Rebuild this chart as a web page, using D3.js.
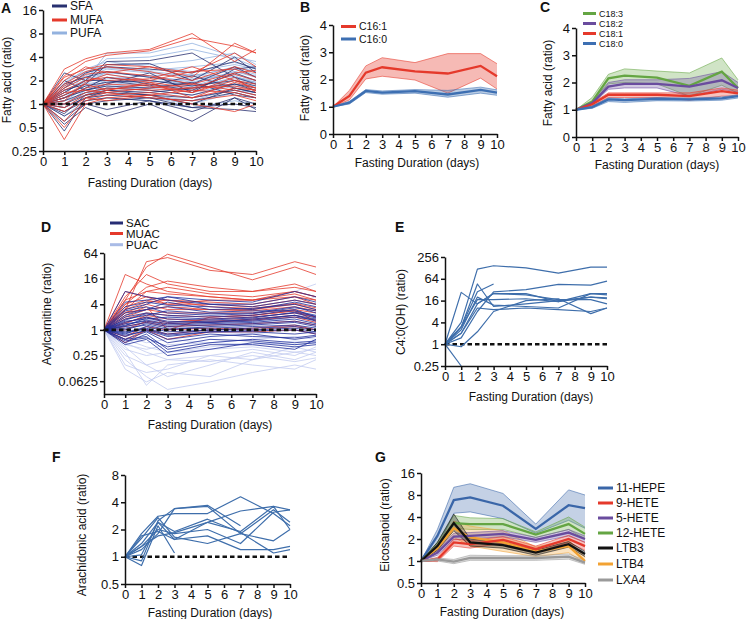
<!DOCTYPE html>
<html><head><meta charset="utf-8">
<script src="https://cdn.jsdelivr.net/npm/d3@7"></script>
<style>body{margin:0;background:#fff}svg{display:block}text{font-family:"Liberation Sans",Arial,Helvetica,sans-serif;fill:#111}</style>
</head><body><svg id="c" width="746" height="619"></svg>
<script>
const days=[0,1,2,3,5,7,9,10];
const xTicks=[0,1,2,3,4,5,6,7,8,9,10];
const xTitle="Fasting Duration (days)";

// ---------- Panel A ----------
const aTicks=[0.25,0.5,1,2,4,8,16];
const aNames=["SFA","MUFA","PUFA"];
const sfa=[[1,0.45,1.2,1.5,1.4,1.6,1.8,1.5],[1,0.55,0.9,0.7,1.0,0.6,1.2,1.0],[1,0.7,1.0,0.85,1.1,0.9,0.85,0.8],[1,2.5,2.0,3.5,3.6,4.5,2.2,1.8],[1,1.5,1.8,3.2,3.3,2.0,4.0,2.5],[1,1.2,1.6,2.2,1.8,1.5,2.5,2.0],[1,1.1,1.4,1.6,1.5,1.3,1.8,1.6],[1,0.9,1.2,1.3,1.2,1.1,1.4,1.2],[1,1.8,2.2,2.6,2.2,1.8,3.0,2.2],[1,1.3,1.7,1.9,2.0,1.7,2.0,1.7],[1,0.8,1.1,1.2,1.1,0.8,1.2,0.85],[1,1.4,2.0,2.0,1.7,2.3,1.6,1.4],[1,2.0,1.5,1.8,2.5,1.4,2.8,3.0],[1,1.0,1.3,1.4,1.3,1.2,1.5,1.3],[1,0.6,1.0,1.1,1.2,0.9,1.0,0.9],[1,1.6,2.5,3.0,2.8,2.5,3.5,2.8],[1,1.2,1.5,1.7,1.6,1.9,1.3,1.2],[1,0.75,1.3,1.5,1.3,1.0,1.6,1.4]];
const mufa=[[1,0.35,1.0,1.2,1.3,1.5,1.4,1.2],[1,0.5,1.1,1.3,1.4,1.2,1.6,1.5],[1,2.8,3.8,4.5,5.0,8.0,3.5,5.0],[1,2.3,3.5,4.2,4.8,7.0,5.5,4.5],[1,2.0,3.0,2.5,3.0,2.5,4.5,3.0],[1,1.5,2.0,2.2,1.9,1.6,2.4,2.0],[1,1.2,1.6,1.8,1.7,1.4,2.0,1.8],[1,1.8,2.6,3.0,2.6,2.0,3.0,2.5],[1,1.0,1.4,1.6,1.5,1.6,1.7,1.5],[1,0.8,1.2,1.4,1.2,1.1,1.3,1.1],[1,1.6,2.2,2.0,2.1,3.0,2.0,1.6],[1,1.3,1.8,1.5,1.8,1.4,2.2,1.4],[1,2.2,2.8,3.2,3.0,2.2,6.0,4.5],[1,1.4,1.5,1.4,1.6,1.8,1.5,1.3],[1,0.6,1.2,1.1,1.3,1.0,0.8,1.0],[1,1.1,1.9,2.4,2.0,2.6,2.8,2.2],[1,1.7,2.4,2.6,2.3,1.8,2.5,2.7],[1,0.9,1.3,1.5,1.9,1.2,1.9,1.6]];
const pufa=[[1,1.5,2.0,4.5,4.5,6.0,4.0,3.5],[1,1.3,2.4,3.8,4.0,5.0,3.8,3.0],[1,1.8,2.8,3.5,3.0,2.6,3.2,2.8],[1,1.2,1.8,2.6,2.2,2.0,2.8,2.4],[1,1.0,1.5,2.0,1.8,1.6,2.2,1.9],[1,0.9,1.3,1.6,1.6,1.4,1.8,1.7],[1,1.4,2.0,2.4,2.0,1.7,2.4,2.0],[1,1.6,2.2,2.8,2.5,2.2,3.0,2.6],[1,1.1,1.6,1.9,1.7,1.5,2.0,1.8],[1,0.8,1.2,1.3,1.2,1.0,1.4,1.2],[1,2.0,2.6,3.2,3.2,3.6,4.5,3.2],[1,1.3,1.7,2.1,2.3,1.9,2.6,2.2],[1,1.0,1.4,1.5,1.4,1.2,1.5,1.4],[1,1.5,1.9,2.2,2.0,1.8,2.6,2.3],[1,1.2,1.5,1.7,1.5,1.3,1.7,1.5],[1,0.7,1.1,1.2,1.1,0.9,1.1,1.0],[1,1.7,2.3,3.0,2.7,3.0,3.4,2.9],[1,1.1,1.3,1.8,1.6,1.7,2.1,1.9],[1,1.4,2.1,2.5,2.3,2.4,2.2,2.0],[1,0.9,1.2,1.4,1.3,1.1,1.6,1.4],[1,1.2,1.8,2.0,1.9,2.1,2.3,1.8],[1,1.9,2.5,2.9,2.6,2.3,2.9,2.6]];

// ---------- Panel B ----------
const bTicks=[0,1,2,3,4];
const bNames=["C16:1","C16:0"];
const bMean=[[1,1.4,2.25,2.45,2.3,2.22,2.5,2.12],[1,1.15,1.58,1.52,1.57,1.45,1.62,1.52]];
const bLow=[[1,1.25,2.02,2.12,1.98,1.5,2.05,1.65],[1,1.1,1.52,1.46,1.5,1.35,1.5,1.42]];
const bHigh=[[1,1.6,2.5,2.8,2.62,2.95,2.95,2.58],[1,1.2,1.63,1.58,1.63,1.6,1.72,1.62]];

// ---------- Panel C ----------
const cTicks=[0,1,2,3,4];
const cNames=["C18:3","C18:2","C18:1","C18:0"];
const cMean=[[1,1.3,2.15,2.25,2.18,1.88,2.4,1.8],[1,1.25,1.85,1.95,1.95,1.85,2.08,1.8],[1,1.2,1.55,1.55,1.55,1.5,1.68,1.6],[1,1.1,1.38,1.35,1.4,1.38,1.42,1.5]];
const cLow=[[1,1.2,1.95,2.0,1.95,1.5,1.9,1.6],[1,1.2,1.75,1.8,1.8,1.5,1.75,1.65],[1,1.15,1.45,1.45,1.45,1.35,1.5,1.5],[1,1.05,1.3,1.27,1.33,1.32,1.35,1.43]];
const cHigh=[[1,1.45,2.3,2.5,2.42,2.35,2.9,2.1],[1,1.3,2.0,2.1,2.1,2.15,2.4,2.0],[1,1.25,1.62,1.62,1.62,1.62,1.8,1.72],[1,1.13,1.43,1.4,1.45,1.43,1.47,1.55]];

// ---------- Panel D ----------
const dTicks=[0.0625,0.25,1,4,16,64];
const dNames=["SAC","MUAC","PUAC"];
const sac=[[1,0.5,0.8,0.35,0.5,0.6,0.5,0.55],[1,0.45,0.6,0.25,0.35,0.5,0.4,0.45],[1,0.6,0.9,0.5,0.7,0.8,0.6,0.7],[1,0.7,1.0,0.7,0.9,0.9,0.8,0.9],[1,0.8,1.2,0.9,1.0,1.1,1.2,1.0],[1,1.2,1.5,1.2,1.3,1.4,1.6,1.3],[1,1.5,2.0,1.6,1.5,1.8,2.2,1.6],[1,2.0,2.5,2.2,2.0,2.2,3.0,2.0],[1,2.5,3.0,4.5,3.0,3.2,4.0,3.0],[1,3.0,4.0,6.0,4.0,4.0,6.0,4.5],[1,8.0,6.0,5.0,4.0,3.5,5.0,4.0],[1,4.5,5.0,6.0,5.0,4.5,8.0,6.0],[1,1.1,1.3,1.0,1.2,1.3,1.5,1.2],[1,0.9,1.1,0.8,1.0,1.0,1.1,0.9],[1,1.3,1.7,1.4,1.5,1.6,2.0,1.7],[1,1.8,2.2,2.8,2.4,2.5,3.5,2.5],[1,0.6,0.7,0.3,0.45,0.45,0.35,0.6],[1,1.6,1.8,2.0,1.8,2.0,2.5,1.9],[1,2.2,3.0,3.5,2.6,2.8,2.8,2.2],[1,0.75,0.95,0.6,0.8,0.7,0.65,0.75],[1,1.4,1.6,1.3,1.4,1.5,1.8,1.4],[1,1.0,1.4,1.1,1.1,1.2,1.3,1.1],[1,3.5,4.5,3.8,3.5,3.0,4.5,3.5],[1,0.55,0.65,0.4,0.6,0.55,0.45,0.5],[1,1.7,2.4,1.8,1.7,1.9,2.6,2.1],[1,0.85,1.05,0.75,0.9,0.95,1.0,0.8],[1,2.8,3.5,2.5,2.2,2.4,3.3,2.8],[1,1.25,1.9,1.5,1.6,1.7,2.2,1.8]];
const muac=[[1,20,12,8,6,5,8,6],[1,3,40,50,25,20,40,30],[1,5,30,60,30,15,30,20],[1,6,20,12,8,8,10,8],[1,4,10,14,10,8,12,8],[1,3,8,10,7,6,8,6],[1,8,6,4,5,5,6,4],[1,2.5,4,3,3,3,4,3],[1,2,3,2.5,2.5,2.5,3,2.5],[1,1.5,2,1.5,1.8,2,2.5,2],[1,3.5,5,4,4,3.5,5,4],[1,1.2,1.5,1.2,1.3,1.4,1.6,1.3],[1,2.2,3.5,1.0,2,2.2,2.8,1.6],[1,4,6,5,4.5,4,6,5],[1,0.5,1.0,0.8,1.0,1.1,1.3,1.0],[1,0.7,1.2,1.0,1.1,1.0,1.2,1.0],[1,1.8,2.5,2.2,2.0,2.2,2.8,2.0],[1,2.6,3,3.5,3,2.8,3.5,2.8],[1,1,1.6,1.4,1.5,1.7,2.0,1.5],[1,5,8,7,6,5,7,5],[1,3,4.5,5,3.5,3.2,4.2,3.3],[1,0.6,1.0,0.6,0.9,0.9,1.0,0.8],[1,1.4,2.2,1.8,1.6,1.8,2.2,1.7]];
const puac=[[1,0.3,0.05,0.15,0.2,0.15,0.12,0.2],[1,0.2,0.08,0.04,0.06,0.1,0.15,0.12],[1,0.12,0.06,0.1,0.08,0.2,0.3,0.25],[1,0.4,0.15,0.08,0.15,0.3,0.2,0.3],[1,0.5,0.3,0.2,0.25,0.35,0.25,0.4],[1,0.6,0.4,0.3,0.4,0.5,0.45,0.5],[1,0.7,0.5,0.6,0.5,0.6,0.7,0.6],[1,0.8,0.9,0.8,0.9,0.8,1.0,0.9],[1,1.5,2,3,4,5,8,12],[1,1.2,1.5,2,2.5,3,4,6],[1,0.9,1.2,1.0,1.3,1.4,2.0,1.5],[1,0.35,0.25,0.3,0.35,0.4,0.3,0.35],[1,0.25,0.15,0.2,0.18,0.25,0.18,0.22],[1,0.45,0.35,0.45,0.5,0.45,0.55,0.5],[1,1.1,1.5,1.3,1.4,1.6,2.2,2.0],[1,0.15,0.1,0.12,0.25,0.2,0.4,0.3]];

// ---------- Panel E ----------
const eTicks=[0.25,1,4,16,64,256];
const eLines=[[1,4,118,147,128,92,135,135],[1,27,13,25,25,15,25,25],[1,3,46,11,13,16,20,18],[1,3,28,46,null,null,null,null],[1,1.5,8,28,32,45,43,55],[1,0.85,2.2,8,16,18,7,10],[1,0.25,null,null,null,null,null,null],[1,3,17,17,18,15,20,19],[1,2.5,20,12,11,10,25,23],[1,2,10,9,10,9,8,10],[1,2,13,25,23,17,17,13]];

// ---------- Panel F ----------
const fTicks=[0.5,1,2,4,8];
const fLines=[[1,1.8,2.8,3.0,3.0,4.6,3.0,2.2],[1,0.9,2.5,3.4,3.7,2.2,null,null],[1,0.8,2.2,1.1,null,null,null,null],[1,1.4,2.4,1.55,2.4,1.9,3.6,2.0],[1,1.3,2.0,1.8,2.0,1.4,3.1,3.3],[1,1.6,2.7,1.65,1.4,1.8,1.5,2.0],[1,1.3,1.7,1.85,2.4,3.2,3.6,3.3],[1,1.7,1.9,1.55,1.7,1.2,1.2,1.3],[1,1.05,2.4,1.9,2.6,1.85,1.1,1.2],[1,1.2,1.8,3.4,3.6,1.8,3.3,2.4]];

// ---------- Panel G ----------
const gTicks=[0.5,1,2,4,8,16];
const gNames=["11-HEPE","9-HETE","5-HETE","12-HETE","LTB3","LTB4","LXA4"];
const gMean=[[1,2.2,6.8,7.4,5.7,2.75,5.8,5.3],[1,1.05,1.8,1.7,1.95,1.45,2.0,1.6],[1,1.3,2.15,2.2,2.35,1.95,2.45,2.0],[1,1.6,3.3,3.2,3.2,2.3,3.2,2.35],[1,1.6,3.3,1.8,1.65,1.3,1.7,1.25],[1,1.5,2.8,2.1,1.8,1.35,1.6,1.0],[1,1.05,0.98,1.1,1.1,1.1,1.15,0.95]];
const gLow=[[1,1.5,4.5,4.7,3.8,2.4,3.6,2.8],[1,0.98,1.6,1.5,1.75,1.3,1.8,1.4],[1,1.2,1.95,2.0,2.15,1.8,2.2,1.8],[1,1.45,2.8,2.7,2.7,2.1,2.7,2.0],[1,1.4,2.6,1.6,1.5,1.2,1.55,1.15],[1,1.3,2.1,1.6,1.35,1.15,1.3,0.93],[1,1.0,0.92,1.02,1.02,1.02,1.06,0.9]];
const gHigh=[[1,2.7,10.2,11.4,8.4,3.2,9.4,8],[1,1.12,2.0,1.9,2.15,1.6,2.25,1.8],[1,1.4,2.4,2.45,2.6,2.1,2.7,2.2],[1,1.8,4.2,3.9,3.8,2.5,4.0,2.9],[1,1.8,4.4,2.0,1.8,1.4,1.85,1.35],[1,1.7,3.5,3.0,2.6,1.55,1.95,1.12],[1,1.1,1.05,1.2,1.18,1.18,1.25,1.02]];

// ================= drawing =================
const RED="#e5392b", BLUE="#3d6fb2", GREEN="#64a543", PURPLE="#6a4c9e", ORANGE="#f2a233", GREY="#9a9a9a", BLACK="#111";
const svg=d3.select("#c");

function panel(p){
  const x=d3.scaleLinear().domain([0,10]).range([p.x0,p.x1]);
  const y=(p.log?d3.scaleLog().base(2):d3.scaleLinear()).domain(p.domain).range([p.yb,p.yt]);
  const marks=svg.append("g");
  const axes=svg.append("g");
  return {x,y,marks,axes,p};
}
function finish(P,ticks){
  const {x,y,axes,p}=P;
  const ya=axes.append("g").attr("transform",`translate(${p.x0},0)`)
    .call(d3.axisLeft(y).tickValues(ticks).tickFormat(d=>String(d)).tickSize(4).tickSizeOuter(0).tickPadding(2));
  const xa=axes.append("g").attr("transform",`translate(0,${p.yb})`)
    .call(d3.axisBottom(x).tickValues(xTicks).tickFormat(d=>String(d)).tickSize(4).tickSizeOuter(0).tickPadding(2));
  [ya,xa].forEach(a=>{a.selectAll("path,line").attr("stroke","#111").attr("stroke-width",1.5);
    a.selectAll("text").attr("font-size",13).attr("fill","#111").style("font-family","Liberation Sans, Arial, sans-serif");});
  axes.append("text").attr("x",p.xtx).attr("y",p.xty).attr("text-anchor","middle").attr("font-size",12).text(xTitle);
  axes.append("text").attr("transform",`translate(${p.ytx},${p.yty}) rotate(-90)`).attr("text-anchor","middle").attr("font-size",12).text(p.ytitle);
  axes.append("text").attr("x",p.lx).attr("y",p.ly).attr("font-size",14).attr("font-weight","bold").text(p.letter);
}
function lineGen(P){return d3.line().defined(d=>d[1]!=null).x(d=>P.x(d[0])).y(d=>P.y(d[1]));}
function pts(arr){return days.map((d,i)=>[d,arr[i]]);}
function drawLines(P,sets,color,w,op){
  const lg=lineGen(P);
  P.marks.append("g").selectAll("path").data(sets).join("path")
    .attr("d",s=>lg(pts(s))).attr("fill","none").attr("stroke",color).attr("stroke-width",w).attr("stroke-opacity",op||1).attr("stroke-linejoin","round");
}
function dashed(P){
  P.marks.append("line").attr("x1",P.x(0)).attr("x2",P.x(10)).attr("y1",P.y(1)).attr("y2",P.y(1))
    .attr("stroke","#111").attr("stroke-width",2.6).attr("stroke-dasharray","4.5,3");
}
function bands(P,means,lows,highs,colors,fillOp){
  const ar=d3.area().x(d=>P.x(d[0])).y0(d=>P.y(d[1])).y1(d=>P.y(d[2]));
  const lg=lineGen(P);
  means.forEach((m,i)=>{
    const data=days.map((d,j)=>[d,lows[i][j],highs[i][j]]);
    P.marks.append("path").attr("d",ar(data)).attr("fill",colors[i]).attr("fill-opacity",fillOp);
    P.marks.append("path").attr("d",lg(pts(lows[i]))).attr("fill","none").attr("stroke",colors[i]).attr("stroke-width",0.7).attr("stroke-opacity",0.8);
    P.marks.append("path").attr("d",lg(pts(highs[i]))).attr("fill","none").attr("stroke",colors[i]).attr("stroke-width",0.7).attr("stroke-opacity",0.8);
  });
  means.forEach((m,i)=>{
    P.marks.append("path").attr("d",lg(pts(m))).attr("fill","none").attr("stroke",colors[i]).attr("stroke-width",2.3);
  });
}
function legend(items,colors,lx,ys,fs,len){
  const g=svg.append("g");
  const L=len||15;
  items.forEach((t,i)=>{
    g.append("line").attr("x1",lx).attr("x2",lx+L).attr("y1",ys[i]).attr("y2",ys[i]).attr("stroke",colors[i]).attr("stroke-width",3);
    g.append("text").attr("x",lx+L+3).attr("y",ys[i]+(fs||12)*0.36).attr("font-size",fs||12).text(t);
  });
}

// A
const PA=panel({x0:43,x1:256,yb:151,yt:10,domain:[0.25,16],log:true,xtx:150,xty:187,ytx:11,yty:80,ytitle:"Fatty acid (ratio)",letter:"A",lx:1,ly:13});
drawLines(PA,pufa,"#93b2df",0.8);
drawLines(PA,sfa,"#283070",0.8);
drawLines(PA,mufa,RED,0.8);
dashed(PA);
finish(PA,aTicks);
legend(aNames,["#283070",RED,"#93b2df"],52,[6,20,33]);

// B
const PB=panel({x0:333,x1:497,yb:134,yt:25,domain:[0,4],log:false,xtx:417,xty:167,ytx:309,yty:78,ytitle:"Fatty acid (ratio)",letter:"B",lx:300,ly:12});
bands(PB,bMean,bLow,bHigh,[RED,BLUE],0.35);
finish(PB,bTicks);
legend(bNames,[RED,BLUE],341,[26.5,39],10.5);

// C
const PC=panel({x0:576,x1:738,yb:137,yt:28,domain:[0,4],log:false,xtx:657,xty:169,ytx:552,yty:83,ytitle:"Fatty acid (ratio)",letter:"C",lx:540,ly:12});
bands(PC,cMean,cLow,cHigh,[GREEN,PURPLE,RED,BLUE],0.3);
finish(PC,cTicks);
legend(cNames,[GREEN,PURPLE,RED,BLUE],583,[13.5,23.5,33.5,43.5],9,13);

// D
const PD=panel({x0:104,x1:316,yb:394,yt:253,domain:[1/32,64],log:true,xtx:210,xty:429,ytx:51,yty:314,ytitle:"Acylcarnitine (ratio)",letter:"D",lx:41,ly:232});
drawLines(PD,puac,"#c3cbf0",0.8);
drawLines(PD,muac,RED,0.8);
drawLines(PD,sac,"#1f2f9c",0.8);
dashed(PD);
finish(PD,dTicks);
legend(dNames,["#262d74",RED,"#a9bbe6"],110,[223,233.5,244.7],11.5,13);

// E
const PE=panel({x0:445,x1:607,yb:366,yt:257,domain:[0.25,256],log:true,xtx:531,xty:401,ytx:405,yty:312,ytitle:"C4:0(OH) (ratio)",letter:"E",lx:395,ly:232});
dashed(PE);
drawLines(PE,eLines,"#3e6eab",1.2);
finish(PE,eTicks);

// F
const PF=panel({x0:125,x1:290,yb:584,yt:475,domain:[0.5,8],log:true,xtx:210,xty:617,ytx:86,yty:535,ytitle:"Arachidonic acid (ratio)",letter:"F",lx:52,ly:462});
dashed(PF);
drawLines(PF,fLines,"#3e6eab",1.2);
finish(PF,fTicks);

// G
const PG=panel({x0:421,x1:585,yb:583,yt:473,domain:[0.5,16],log:true,xtx:502,xty:616,ytx:389,yty:525,ytitle:"Eicosanoid (ratio)",letter:"G",lx:375,ly:462});
const gColors=["#3a66a8",RED,PURPLE,GREEN,BLACK,ORANGE,GREY];
const order=[0,3,5,2,1,4,6];
bands(PG,order.map(i=>gMean[i]),order.map(i=>gLow[i]),order.map(i=>gHigh[i]),order.map(i=>gColors[i]),0.3);
finish(PG,gTicks);
legend(gNames,gColors,598,[488,503,518,533,548,564,580]);
</script></body></html>
